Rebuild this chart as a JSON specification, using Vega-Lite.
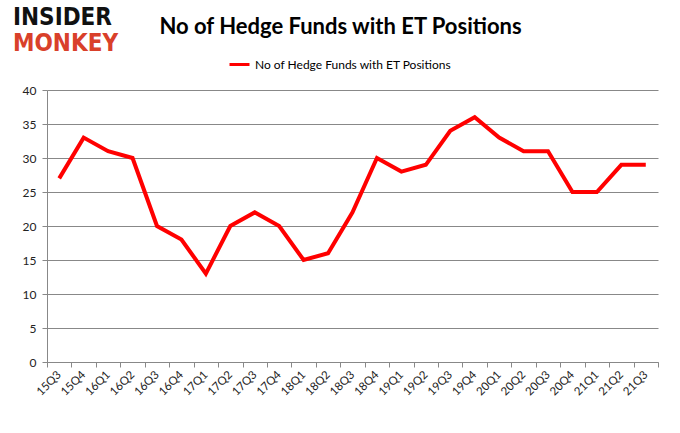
{
  "$schema": "https://vega.github.io/schema/vega-lite/v6.json",
  "width": 611,
  "height": 272,
  "autosize": "none",
  "padding": {"left": 47, "top": 90, "right": 22, "bottom": 71},
  "background": "white",
  "config": {"view": {"stroke": null}, "font": "Lato"},
  "title": {
    "text": "No of Hedge Funds with ET Positions",
    "anchor": "middle",
    "frame": "group",
    "dx": -12,
    "offset": -33,
    "fontSize": 22,
    "fontWeight": "bold",
    "font": "Lato",
    "color": "#000000"
  },
  "data": {
    "values": [
      {"q": "15Q3", "v": 27, "s": "No of Hedge Funds with ET Positions"},
      {"q": "15Q4", "v": 33, "s": "No of Hedge Funds with ET Positions"},
      {"q": "16Q1", "v": 31, "s": "No of Hedge Funds with ET Positions"},
      {"q": "16Q2", "v": 30, "s": "No of Hedge Funds with ET Positions"},
      {"q": "16Q3", "v": 20, "s": "No of Hedge Funds with ET Positions"},
      {"q": "16Q4", "v": 18, "s": "No of Hedge Funds with ET Positions"},
      {"q": "17Q1", "v": 13, "s": "No of Hedge Funds with ET Positions"},
      {"q": "17Q2", "v": 20, "s": "No of Hedge Funds with ET Positions"},
      {"q": "17Q3", "v": 22, "s": "No of Hedge Funds with ET Positions"},
      {"q": "17Q4", "v": 20, "s": "No of Hedge Funds with ET Positions"},
      {"q": "18Q1", "v": 15, "s": "No of Hedge Funds with ET Positions"},
      {"q": "18Q2", "v": 16, "s": "No of Hedge Funds with ET Positions"},
      {"q": "18Q3", "v": 22, "s": "No of Hedge Funds with ET Positions"},
      {"q": "18Q4", "v": 30, "s": "No of Hedge Funds with ET Positions"},
      {"q": "19Q1", "v": 28, "s": "No of Hedge Funds with ET Positions"},
      {"q": "19Q2", "v": 29, "s": "No of Hedge Funds with ET Positions"},
      {"q": "19Q3", "v": 34, "s": "No of Hedge Funds with ET Positions"},
      {"q": "19Q4", "v": 36, "s": "No of Hedge Funds with ET Positions"},
      {"q": "20Q1", "v": 33, "s": "No of Hedge Funds with ET Positions"},
      {"q": "20Q2", "v": 31, "s": "No of Hedge Funds with ET Positions"},
      {"q": "20Q3", "v": 31, "s": "No of Hedge Funds with ET Positions"},
      {"q": "20Q4", "v": 25, "s": "No of Hedge Funds with ET Positions"},
      {"q": "21Q1", "v": 25, "s": "No of Hedge Funds with ET Positions"},
      {"q": "21Q2", "v": 29, "s": "No of Hedge Funds with ET Positions"},
      {"q": "21Q3", "v": 29, "s": "No of Hedge Funds with ET Positions"}
    ]
  },
  "layer": [
    {
      "mark": {"type": "line", "strokeWidth": 4, "strokeJoin": "miter"},
      "encoding": {
        "x": {
          "field": "q",
          "type": "ordinal",
          "sort": null,
          "scale": {"type": "band", "paddingInner": 0, "paddingOuter": 0},
          "axis": {
            "title": null,
            "labelAngle": -45,
            "labelAlign": "right",
            "labelBaseline": "middle",
            "labelFontSize": 11.5,
            "labelColor": "#222222",
            "labelPadding": 6,
            "tickBand": "extent",
            "tickColor": "#888888",
            "tickSize": 5,
            "domainColor": "#888888",
            "grid": false
          }
        },
        "y": {
          "field": "v",
          "type": "quantitative",
          "scale": {"domain": [0, 40]},
          "axis": {
            "title": null,
            "values": [0, 5, 10, 15, 20, 25, 30, 35, 40],
            "labelFontSize": 12,
            "labelColor": "#222222",
            "labelPadding": 6,
            "tickColor": "#888888",
            "tickSize": 5,
            "domainColor": "#888888",
            "gridColor": "#888888",
            "gridWidth": 1
          }
        },
        "color": {
          "field": "s",
          "type": "nominal",
          "scale": {"range": ["#ff0000"]},
          "legend": {
            "title": null,
            "orient": "none",
            "legendX": 181,
            "legendY": -37,
            "direction": "horizontal",
            "symbolType": "stroke",
            "symbolStrokeWidth": 3,
            "symbolSize": 400,
            "labelFontSize": 12,
            "labelLimit": 0,
            "labelColor": "#000000",
            "labelFont": "Lato"
          }
        }
      }
    },
    {
      "data": {"values": [{"t": "INSIDER"}]},
      "mark": {"type": "text", "align": "left", "baseline": "top", "fontSize": 24, "fontWeight": "bold", "font": "DejaVu Sans Condensed", "color": "#111111"},
      "encoding": {"text": {"field": "t"}, "x": {"value": -34}, "y": {"value": -84}}
    },
    {
      "data": {"values": [{"t": "MONKEY"}]},
      "mark": {"type": "text", "align": "left", "baseline": "top", "fontSize": 24, "fontWeight": "bold", "font": "DejaVu Sans Condensed", "color": "#d9402a"},
      "encoding": {"text": {"field": "t"}, "x": {"value": -34}, "y": {"value": -58}}
    }
  ]
}
